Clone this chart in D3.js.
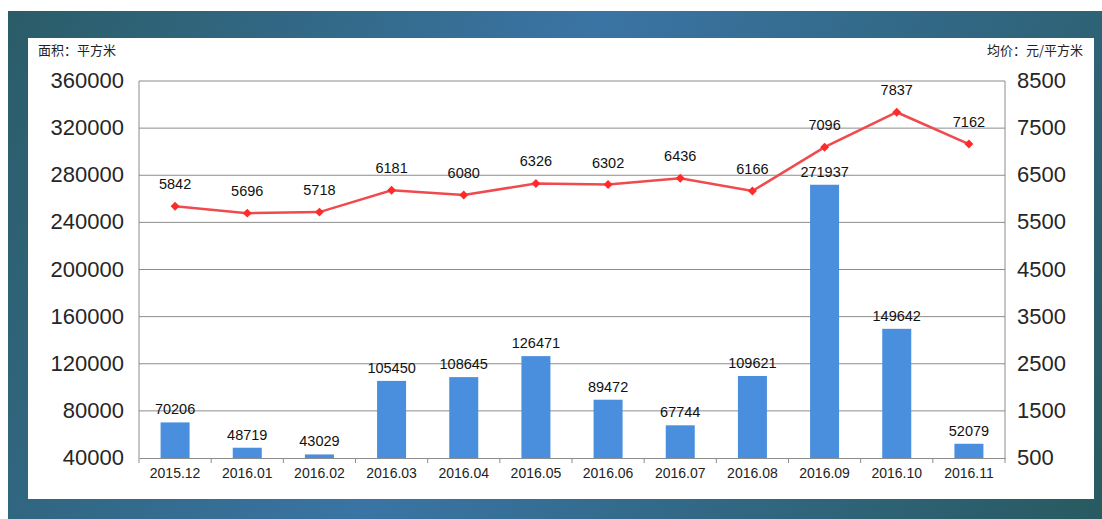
<!DOCTYPE html>
<html>
<head>
<meta charset="utf-8">
<script src="https://cdn.jsdelivr.net/npm/d3@7"></script>
<style>
  body { margin: 0; background: #fff; }
  svg { display: block; }
</style>
</head>
<body>
<svg width="1102" height="519"></svg>
<script>
const months = ["2015.12","2016.01","2016.02","2016.03","2016.04","2016.05","2016.06","2016.07","2016.08","2016.09","2016.10","2016.11"];
const area = [70206, 48719, 43029, 105450, 108645, 126471, 89472, 67744, 109621, 271937, 149642, 52079];
const price = [5842, 5696, 5718, 6181, 6080, 6326, 6302, 6436, 6166, 7096, 7837, 7162];
const leftTicks = [40000, 80000, 120000, 160000, 200000, 240000, 280000, 320000, 360000];
const rightTicks = [500, 1500, 2500, 3500, 4500, 5500, 6500, 7500, 8500];

const svg = d3.select("svg");
const width = +svg.attr("width");
const height = +svg.attr("height");

// background gradient frame
const defs = svg.append("defs");
const grad = defs.append("linearGradient")
  .attr("id", "bg")
  .attr("gradientUnits", "userSpaceOnUse")
  .attr("x1", 0).attr("y1", 0)
  .attr("x2", 1102).attr("y2", 520);
grad.append("stop").attr("offset", "0%").attr("stop-color", "#2a5c66");
grad.append("stop").attr("offset", "45%").attr("stop-color", "#3a74a4");
grad.append("stop").attr("offset", "100%").attr("stop-color", "#285a60");

svg.append("rect").attr("x", 8).attr("y", 11).attr("width", 1094).attr("height", 508)
  .attr("fill", "url(#bg)");
svg.append("rect").attr("x", 28).attr("y", 38).attr("width", 1066).attr("height", 461)
  .attr("fill", "#ffffff");

const m = {left: 139, right: 1005, top: 81, bottom: 458};

const x = d3.scaleBand().domain(months).range([m.left, m.right]);
const y = d3.scaleLinear().domain([40000, 360000]).range([m.bottom, m.top]);
const y2 = d3.scaleLinear().domain([500, 8500]).range([m.bottom, m.top]);

// grid
svg.append("g").selectAll("line")
  .data(leftTicks.slice(1))
  .enter().append("line")
  .attr("x1", m.left).attr("x2", m.right)
  .attr("y1", d => y(d)).attr("y2", d => y(d))
  .attr("stroke", "#8c8c8c").attr("stroke-width", 1);

// frame sides
svg.append("line").attr("x1", m.left).attr("x2", m.left).attr("y1", m.top).attr("y2", m.bottom)
  .attr("stroke", "#8c8c8c");
svg.append("line").attr("x1", m.right).attr("x2", m.right).attr("y1", m.top).attr("y2", m.bottom)
  .attr("stroke", "#8c8c8c");

// bars
const barW = 29;
svg.append("g").selectAll("rect")
  .data(area)
  .enter().append("rect")
  .attr("x", (d, i) => x(months[i]) + x.bandwidth() / 2 - barW / 2)
  .attr("y", d => y(d))
  .attr("width", barW)
  .attr("height", d => y(40000) - y(d))
  .attr("fill", "#4a8ede");

// x axis
const xAxis = svg.append("g")
  .attr("transform", "translate(0," + m.bottom + ")")
  .call(d3.axisBottom(x).tickSize(0).tickPadding(10));
xAxis.select(".domain").attr("stroke", "#8c8c8c");
xAxis.selectAll("text")
  .attr("font-family", "Liberation Sans, Arial, sans-serif")
  .attr("font-size", 14).attr("fill", "#222");
svg.append("g").selectAll("line")
  .data(d3.range(months.length + 1))
  .enter().append("line")
  .attr("x1", i => m.left + i * x.step()).attr("x2", i => m.left + i * x.step())
  .attr("y1", m.bottom).attr("y2", m.bottom + 5)
  .attr("stroke", "#8c8c8c");

// left axis labels
svg.append("g").selectAll("text")
  .data(leftTicks)
  .enter().append("text")
  .attr("x", 124).attr("y", d => y(d) + 7)
  .attr("text-anchor", "end")
  .attr("font-family", "Liberation Sans, Arial, sans-serif")
  .attr("font-size", 22).attr("fill", "#262626")
  .text(d => d);

// right axis labels
svg.append("g").selectAll("text")
  .data(rightTicks)
  .enter().append("text")
  .attr("x", 1017).attr("y", d => y2(d) + 7)
  .attr("font-family", "Liberation Sans, Arial, sans-serif")
  .attr("font-size", 22).attr("fill", "#262626")
  .text(d => d);

// axis titles
svg.append("text").attr("x", 38).attr("y", 55)
  .attr("font-family", "Noto Sans CJK SC, sans-serif").attr("font-size", 13).attr("fill", "#222")
  .text("面积：平方米");
svg.append("text").attr("x", 1083).attr("y", 55).attr("text-anchor", "end")
  .attr("font-family", "Noto Sans CJK SC, sans-serif").attr("font-size", 13).attr("fill", "#222")
  .text("均价：元/平方米");

// bar labels
svg.append("g").selectAll("text")
  .data(area)
  .enter().append("text")
  .attr("x", (d, i) => x(months[i]) + x.bandwidth() / 2)
  .attr("y", d => y(d) - 8)
  .attr("text-anchor", "middle")
  .attr("font-family", "Liberation Sans, Arial, sans-serif")
  .attr("font-size", 14.5).attr("fill", "#111")
  .text(d => d);

// price line
const cx = i => x(months[i]) + x.bandwidth() / 2;
svg.append("path")
  .datum(price)
  .attr("fill", "none")
  .attr("stroke", "#f04a4e")
  .attr("stroke-width", 2.5)
  .attr("d", d3.line().x((d, i) => cx(i)).y(d => y2(d)));

svg.append("g").selectAll("path")
  .data(price)
  .enter().append("path")
  .attr("transform", (d, i) => "translate(" + cx(i) + "," + y2(d) + ") rotate(45)")
  .attr("d", d3.symbol().type(d3.symbolSquare).size(40))
  .attr("fill", "#ff2a2a");

svg.append("g").selectAll("text")
  .data(price)
  .enter().append("text")
  .attr("x", (d, i) => cx(i))
  .attr("y", d => y2(d) - 17)
  .attr("text-anchor", "middle")
  .attr("font-family", "Liberation Sans, Arial, sans-serif")
  .attr("font-size", 14.5).attr("fill", "#111")
  .text(d => d);
</script>
</body>
</html>
